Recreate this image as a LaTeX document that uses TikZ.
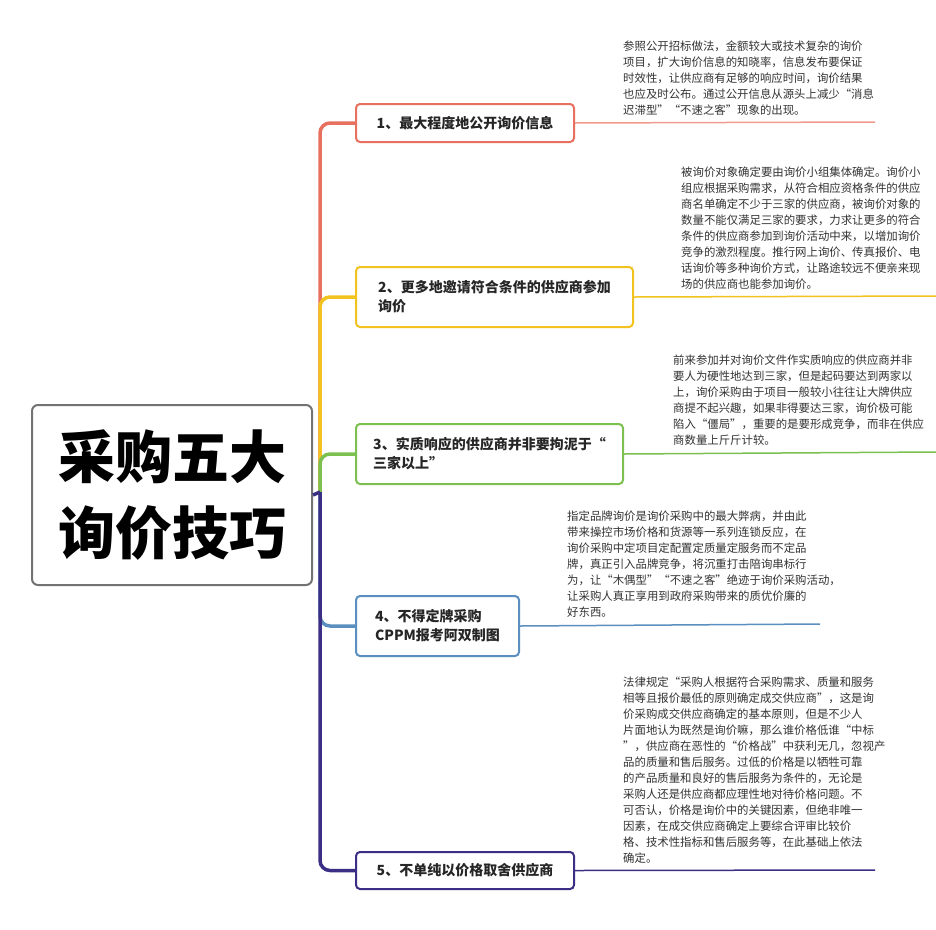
\documentclass[tikz,border=0pt]{standalone}
\usepackage{fontspec}
\setmainfont{Noto Sans CJK SC}
\begin{document}
\begin{tikzpicture}[x=1pt,y=-1pt,
  br/.style={draw=#1,line width=2pt,rounded corners=4pt,fill=white,anchor=north west,align=left,inner xsep=9pt,font=\fontsize{14}{19}\selectfont\bfseries,text=black!85},
  conn/.style={draw=#1,line width=3.5pt,rounded corners=10pt},
  ul/.style={draw=#1,line width=1.5pt},
  desc/.style={anchor=south west,align=left,inner sep=0pt,font=\fontsize{11.4}{16}\selectfont,text=black!80}]
\definecolor{cr}{HTML}{E8705F}
\definecolor{cy}{HTML}{F2C21E}
\definecolor{cg}{HTML}{7CC050}
\definecolor{cb}{HTML}{5B8FC0}
\definecolor{cp}{HTML}{3A2F85}
\useasboundingbox (0,0) rectangle (936,929);
\fill[white] (0,0) rectangle (936,929);
\coordinate (j) at (320,492);
% branch nodes
\node[br=cr,minimum width=218pt,minimum height=38pt] (b1) at (355,103) {1、最大程度地公开询价信息};
\node[br=cy,minimum width=277pt,minimum height=60pt] (b2) at (355,266) {2、更多地邀请符合条件的供应商参加\\询价};
\node[br=cg,minimum width=267pt,minimum height=60pt] (b3) at (355,423) {3、实质响应的供应商并非要拘泥于“\\三家以上”};
\node[br=cb,minimum width=163pt,minimum height=60pt] (b4) at (355,595) {4、不得定牌采购\\CPPM报考阿双制图};
\node[br=cp,minimum width=218pt,minimum height=37pt] (b5) at (355,851) {5、不单纯以价格取舍供应商};
% connectors
\draw[conn=cr] (j) |- (b1.west);
\draw[conn=cy] (j) |- (b2.west);
\draw[conn=cg] (j) |- (b3.west);
\draw[conn=cb] (j) |- (b4.west);
\draw[conn=cp] (j) |- (b5.west);
% central
\node[draw=black!55,line width=2pt,rounded corners=6pt,fill=white,minimum width=280pt,minimum height=180pt,align=center,font=\fontsize{57}{76}\selectfont\bfseries] (c) at (172,495) {采购五大\\询价技巧};
\draw[conn=cp] (c.east) -- (j);
% underlines
\coordinate (e1) at (875,122);
\coordinate (e2) at (936,296);
\coordinate (e3) at (936,452);
\coordinate (e4) at (820,624);
\coordinate (e5) at (875,870);
\draw[ul=cr!70] (b1.east) -- (e1);
\draw[ul=cy] (b2.east) -- (e2);
\draw[ul=cg] (b3.east) -- (e3);
\draw[ul=cb] (b4.east) -- (e4);
\draw[ul=cp] (b5.east) -- (e5);
% descriptions
\node[desc] (d1) at (623,116) {参照公开招标做法，金额较大或技术复杂的询价\\项目，扩大询价信息的知晓率，信息发布要保证\\时效性，让供应商有足够的响应时间，询价结果\\也应及时公布。通过公开信息从源头上减少“消息\\迟滞型”“不速之客”现象的出现。};
\node[desc] (d2) at (681,290) {被询价对象确定要由询价小组集体确定。询价小\\组应根据采购需求，从符合相应资格条件的供应\\商名单确定不少于三家的供应商，被询价对象的\\数量不能仅满足三家的要求，力求让更多的符合\\条件的供应商参加到询价活动中来，以增加询价\\竞争的激烈程度。推行网上询价、传真报价、电\\话询价等多种询价方式，让路途较远不便亲来现\\场的供应商也能参加询价。};
\node[desc] (d3) at (673,446) {前来参加并对询价文件作实质响应的供应商并非\\要人为硬性地达到三家，但是起码要达到两家以\\上，询价采购由于项目一般较小往往让大牌供应\\商提不起兴趣，如果非得要达三家，询价极可能\\陷入“僵局”，重要的是要形成竞争，而非在供应\\商数量上斤斤计较。};
\node[desc] (d4) at (567,618) {指定品牌询价是询价采购中的最大弊病，并由此\\带来操控市场价格和货源等一系列连锁反应，在\\询价采购中定项目定配置定质量定服务而不定品\\牌，真正引入品牌竞争，将沉重打击陪询串标行\\为，让“木偶型”“不速之客”绝迹于询价采购活动，\\让采购人真正享用到政府采购带来的质优价廉的\\好东西。};
\node[desc] (d5) at (623,864) {法律规定“采购人根据符合采购需求、质量和服务\\相等且报价最低的原则确定成交供应商”，这是询\\价采购成交供应商确定的基本原则，但是不少人\\片面地认为既然是询价嘛，那么谁价格低谁“中标\\”，供应商在恶性的“价格战”中获利无几，忽视产\\品的质量和售后服务。过低的价格是以牺牲可靠\\的产品质量和良好的售后服务为条件的，无论是\\采购人还是供应商都应理性地对待价格问题。不\\可否认，价格是询价中的关键因素，但绝非唯一\\因素，在成交供应商确定上要综合评审比较价\\格、技术性指标和售后服务等，在此基础上依法\\确定。};
\end{tikzpicture}
\end{document}
